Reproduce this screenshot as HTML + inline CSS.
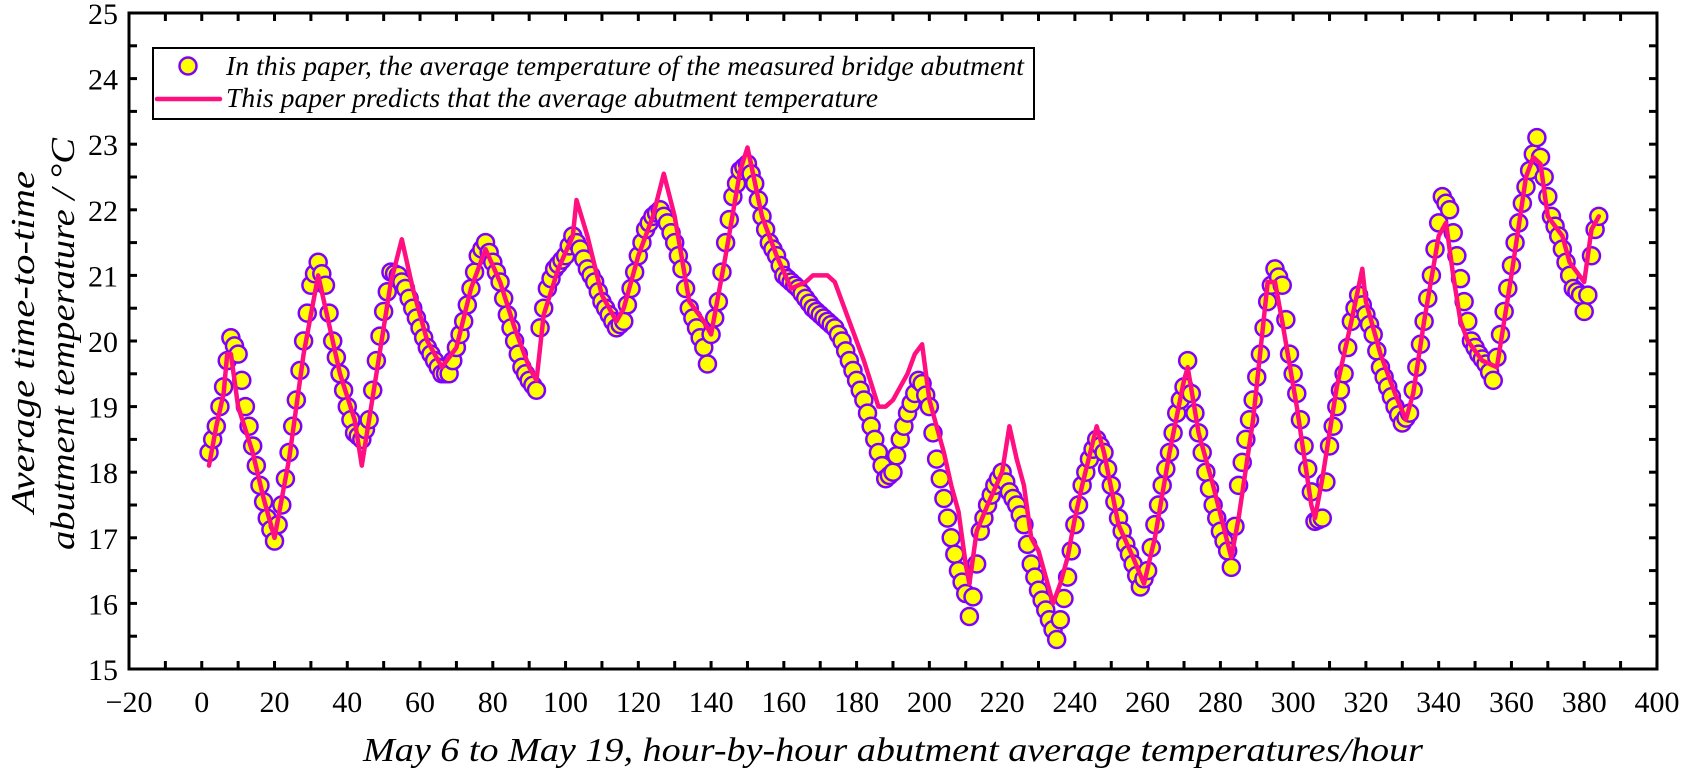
<!DOCTYPE html>
<html><head><meta charset="utf-8"><style>
html,body{margin:0;padding:0;background:#fff;}
svg{display:block;}
svg text{font-family:"Liberation Serif","DejaVu Serif",serif !important;fill:#000;}
</style></head><body>
<svg id="s" width="1682" height="773" viewBox="0 0 1682 773" xmlns="http://www.w3.org/2000/svg" font-family="Liberation Serif, serif">
<g id="plot"></g>
<rect x="129" y="13" width="1528" height="656" fill="none" stroke="#000" stroke-width="3"/>
<g id="ticks" stroke="#000" stroke-width="3"></g>
<g id="labels" font-size="30"></g>
<rect x="153" y="48" width="881" height="71" fill="#fff" stroke="#000" stroke-width="2"/>
<circle cx="188" cy="66" r="8.5" fill="#ffff00" stroke="#8000ff" stroke-width="2.5"/>
<line x1="157" y1="99" x2="220" y2="99" stroke="#ff0f7f" stroke-width="4.5" stroke-linecap="round"/>
<text x="226" y="75" font-size="27" font-style="italic" textLength="798" lengthAdjust="spacingAndGlyphs">In this paper, the average temperature of the measured bridge abutment</text>
<text x="226" y="107" font-size="27" font-style="italic" textLength="652" lengthAdjust="spacingAndGlyphs">This paper predicts that the average abutment temperature</text>
<text x="893" y="761" font-size="34" font-style="italic" text-anchor="middle" textLength="1060" lengthAdjust="spacingAndGlyphs">May 6 to May 19, hour-by-hour abutment average temperatures/hour</text>
<text transform="translate(34,342) rotate(-90)" font-size="34" font-style="italic" text-anchor="middle" textLength="342" lengthAdjust="spacingAndGlyphs">Average time-to-time</text>
<text transform="translate(74,344) rotate(-90)" font-size="34" font-style="italic" text-anchor="middle" textLength="412" lengthAdjust="spacingAndGlyphs">abutment temperature / °C</text>
</svg>
<script>
var X=function(t){return 129+(t+20)*3.638;};
var Y=function(v){return 13+(25-v)*65.6;};
var NS="http://www.w3.org/2000/svg";
function el(n,a,p){var e=document.createElementNS(NS,n);for(var k in a)e.setAttribute(k,a[k]);p.appendChild(e);return e;}
var tk=document.getElementById('ticks'),lb=document.getElementById('labels'),pl=document.getElementById('plot');
for(var t=-20;t<=400;t+=10){var x=X(t),L=8;
 el('line',{x1:x,y1:669,x2:x,y2:669-L},tk);el('line',{x1:x,y1:13,x2:x,y2:13+L},tk);
 if(t%20==0){var tx=el('text',{x:x,y:712,'text-anchor':'middle'},lb);tx.textContent=(t<0?'\u2212'+(-t):t);}}
for(var v=15;v<=25.001;v+=0.5){var y=Y(v);
 el('line',{x1:129,y1:y,x2:137,y2:y},tk);el('line',{x1:1657,y1:y,x2:1649,y2:y},tk);
 if(Math.abs(v-Math.round(v))<0.01){var ty=el('text',{x:118,y:y+11,'text-anchor':'end'},lb);ty.textContent=Math.round(v);}}
var M=[[2,18.3],[4,18.7],[6,19.3],[7,19.7],[8,20.05],[10,19.8],[12,19.0],[14,18.4],[16,17.8],[18,17.3],[20,16.95],[21,17.2],[22,17.5],[24,18.3],[26,19.1],[28,20.0],[30,20.85],[32,21.2],[34,20.85],[36,20.0],[38,19.5],[40,19.0],[42,18.6],[44,18.5],[46,18.8],[48,19.7],[50,20.45],[52,21.05],[54,21.0],[56,20.8],[58,20.5],[60,20.2],[62,19.9],[64,19.7],[66,19.5],[68,19.5],[70,19.9],[72,20.3],[74,20.8],[76,21.3],[78,21.5],[80,21.2],[82,20.9],[84,20.4],[86,20.0],[88,19.6],[90,19.4],[92,19.25],[93,20.2],[95,20.8],[97,21.1],[100,21.3],[102,21.6],[104,21.4],[106,21.1],[108,20.9],[110,20.6],[112,20.4],[114,20.2],[116,20.3],[118,20.8],[120,21.3],[122,21.7],[124,21.9],[126,22.0],[128,21.8],[130,21.5],[132,21.1],[134,20.5],[136,20.2],[138,19.9],[139,19.65],[140,20.1],[142,20.6],[144,21.5],[146,22.2],[148,22.6],[150,22.7],[152,22.4],[154,21.9],[156,21.5],[158,21.3],[160,21.0],[162,20.9],[164,20.8],[166,20.65],[168,20.5],[170,20.4],[172,20.3],[174,20.2],[176,20.0],[178,19.7],[180,19.4],[182,19.1],[184,18.7],[186,18.3],[188,17.9],[190,18.0],[192,18.5],[194,18.9],[196,19.2],[197,19.4],[198,19.35],[200,19.0],[202,18.2],[204,17.6],[206,17.0],[208,16.5],[210,16.15],[211,15.8],[212,16.1],[214,17.1],[216,17.5],[218,17.8],[220,18.0],[222,17.7],[224,17.5],[226,17.2],[228,16.6],[230,16.2],[232,15.9],[234,15.6],[235,15.45],[236,15.75],[238,16.4],[240,17.2],[242,17.8],[244,18.2],[246,18.5],[248,18.3],[250,17.8],[252,17.3],[254,16.9],[256,16.6],[258,16.25],[260,16.5],[262,17.2],[264,17.8],[266,18.3],[268,18.9],[270,19.3],[271,19.7],[272,19.2],[274,18.6],[276,18.0],[278,17.5],[280,17.1],[282,16.8],[283,16.55],[285,17.8],[287,18.5],[289,19.1],[291,19.8],[293,20.6],[295,21.1],[297,20.85],[299,19.8],[301,19.2],[303,18.4],[305,17.7],[306,17.25],[308,17.3],[310,18.4],[312,19.0],[314,19.5],[316,20.3],[318,20.7],[320,20.4],[322,20.1],[324,19.6],[326,19.3],[328,19.0],[330,18.75],[332,18.9],[334,19.6],[336,20.3],[338,21.0],[340,21.8],[341,22.2],[343,22.0],[345,21.3],[347,20.6],[349,20.0],[351,19.8],[353,19.65],[355,19.4],[357,20.1],[359,20.8],[361,21.5],[363,22.1],[365,22.6],[367,23.1],[369,22.5],[371,21.9],[373,21.6],[375,21.2],[377,20.8],[379,20.7],[380,20.45],[381,20.7],[382,21.3],[383,21.7],[384,21.9]];
var P=[[2,18.1],[4,18.7],[6,19.2],[7,19.8],[8,19.8],[10,19.0],[14,18.3],[17,17.6],[20,17.0],[24,18.2],[28,19.8],[32,21.0],[34,20.5],[38,19.5],[42,18.8],[44,18.1],[46,18.8],[48,19.5],[52,20.9],[55,21.55],[58,20.8],[62,20.0],[66,19.6],[70,19.9],[74,20.8],[78,21.4],[82,20.9],[86,20.2],[90,19.6],[92,19.4],[94,20.4],[98,21.1],[102,21.6],[103,22.15],[106,21.6],[110,20.7],[114,20.3],[116,20.5],[120,21.3],[124,21.9],[127,22.55],[130,21.9],[134,20.6],[138,20.3],[140,20.1],[144,21.3],[148,22.6],[150,22.95],[154,21.9],[158,21.3],[162,20.8],[166,20.9],[168,21.0],[172,21.0],[174,20.9],[178,20.3],[182,19.7],[184,19.35],[186,19.0],[188,19.0],[190,19.1],[194,19.5],[196,19.8],[198,19.95],[200,19.1],[202,18.7],[204,18.3],[206,17.8],[208,17.4],[210,16.6],[211,16.3],[213,17.1],[216,17.5],[220,18.0],[222,18.7],[224,18.2],[226,17.8],[228,17.0],[230,16.8],[234,16.0],[236,16.3],[238,16.7],[240,17.3],[242,17.8],[246,18.7],[248,18.3],[252,17.2],[256,16.7],[259,16.3],[262,17.0],[266,18.3],[270,19.4],[271,19.6],[274,18.6],[278,17.8],[283,16.7],[285,17.3],[289,18.8],[293,20.9],[295,20.9],[297,20.3],[301,19.0],[305,17.5],[306,17.3],[308,17.9],[312,19.3],[316,20.3],[319,21.1],[320,20.6],[324,19.8],[328,19.2],[331,18.8],[333,19.2],[336,20.3],[340,21.6],[342,21.8],[344,21.0],[346,20.3],[348,20.0],[352,19.7],[356,19.6],[360,21.0],[364,22.5],[366,22.8],[368,22.7],[370,21.9],[374,21.6],[376,21.2],[380,20.9],[382,21.7],[384,21.9]];
function interp(A,t){for(var i=0;i<A.length-1;i++){if(t>=A[i][0]&&t<=A[i+1][0]){var f=(t-A[i][0])/(A[i+1][0]-A[i][0]);return A[i][1]+f*(A[i+1][1]-A[i][1]);}}return A[A.length-1][1];}
for(var h=2;h<=384;h++){el('circle',{cx:X(h),cy:Y(interp(M,h)),r:8.5,fill:'#ffff00',stroke:'#8000ff','stroke-width':2.5},pl);}
var d='';P.forEach(function(p,i){d+=(i?'L':'M')+X(p[0]).toFixed(1)+','+Y(p[1]).toFixed(1);});
el('path',{d:d,fill:'none',stroke:'#ff0f7f','stroke-width':4.5,'stroke-linejoin':'round','stroke-linecap':'round'},pl);
</script>
</body></html>
